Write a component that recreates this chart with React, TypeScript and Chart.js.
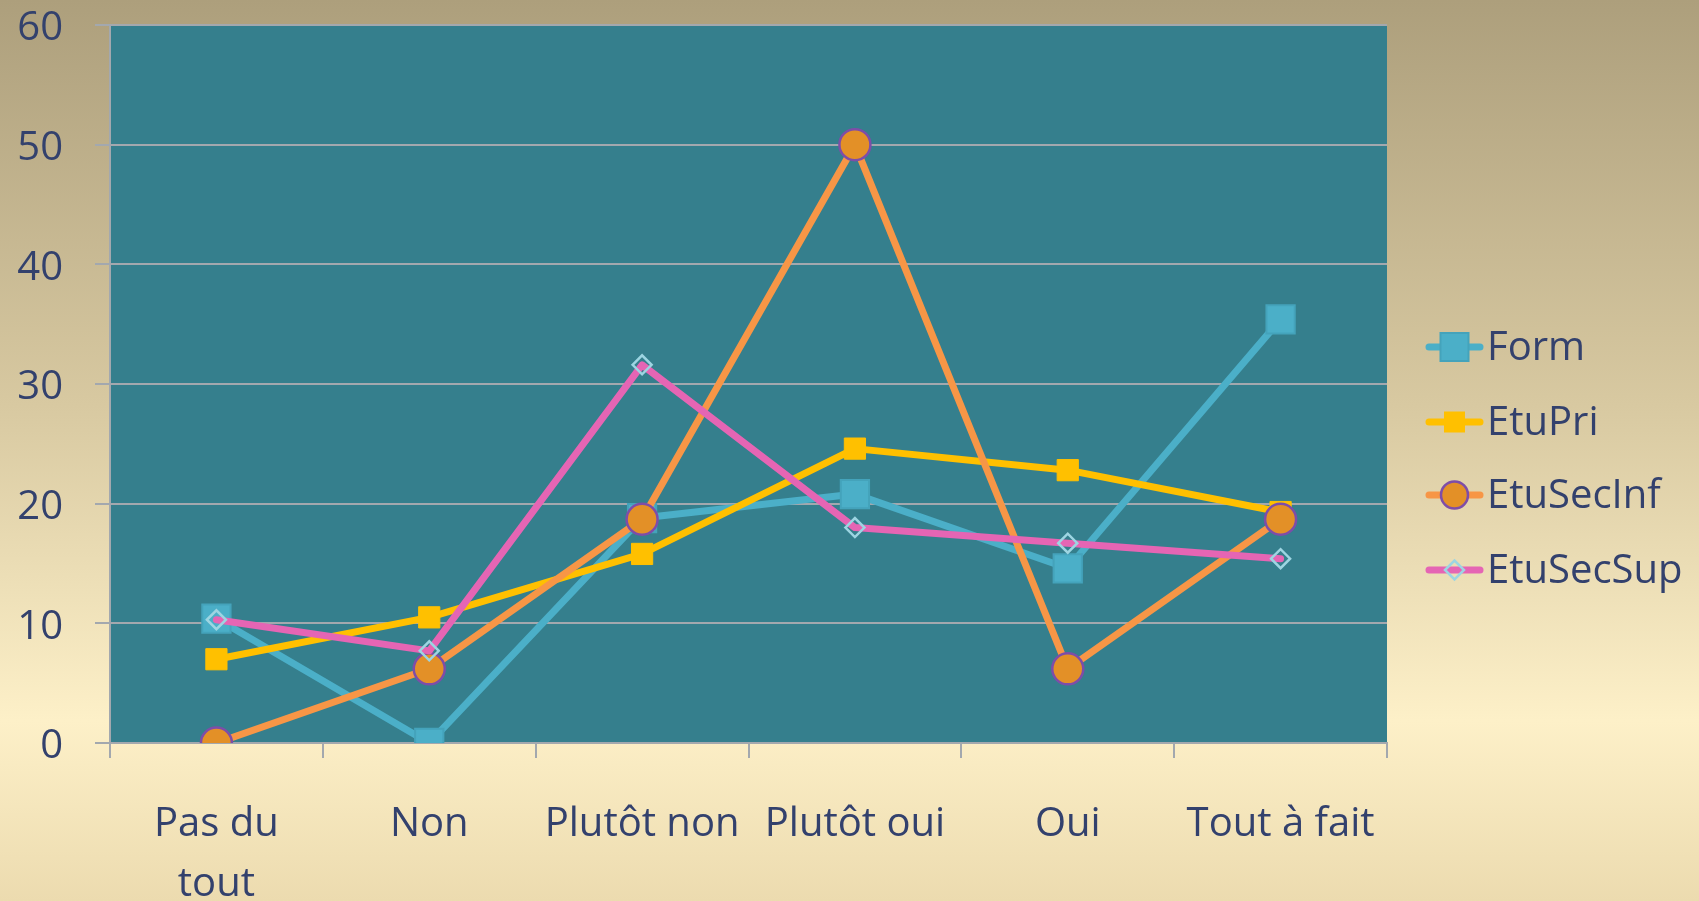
import React, { useEffect, useRef } from 'react';
import { Chart, registerables } from 'chart.js';

Chart.register(...registerables);

const categories: (string | string[])[] = [['Pas du', 'tout'], 'Non', 'Plutôt non', 'Plutôt oui', 'Oui', 'Tout à fait'];
const formValues = [10.4, 0, 18.8, 20.8, 14.6, 35.4];
const etuPriValues = [7.0, 10.5, 15.8, 24.6, 22.8, 19.3];
const etuSecInfValues = [0, 6.2, 18.7, 50, 6.2, 18.7];
const etuSecSupValues = [10.3, 7.7, 31.6, 18.0, 16.7, 15.4];
const seriesNames = ['Form', 'EtuPri', 'EtuSecInf', 'EtuSecSup'];
const yMin = 0;
const yMax = 60;
const yStep = 10;

const TEXT = '#33416D';
const GRID = '#A3A8AE';
const FONT = '"Open Sans", Lato, sans-serif';

const C_FORM = '#4BAFC8';
const C_FORM_B = '#44A3BB';
const C_PRI = '#FFC000';
const C_INF_LINE = '#F79646';
const C_INF_FILL = '#E39027';
const C_INF_B = '#7E4DA8';
const C_SUP = '#E565B4';
const C_SUP_B = '#9DD5E2';

const bgPlugin = {
  id: 'bgPlugin',
  beforeDraw(chart: any) {
    const { ctx, width, height, chartArea } = chart;
    ctx.save();
    const g = ctx.createLinearGradient(0, 0, 0, height);
    g.addColorStop(0, '#AD9F7C');
    g.addColorStop(0.45, '#D8C9A1');
    g.addColorStop(0.8, '#FDF0C8');
    g.addColorStop(1, '#ECDBAF');
    ctx.fillStyle = g;
    ctx.fillRect(0, 0, width, height);
    ctx.fillStyle = '#357F8D';
    ctx.fillRect(chartArea.left, chartArea.top, chartArea.right - chartArea.left, chartArea.bottom - chartArea.top);
    ctx.restore();
  },
};

const legendPlugin = {
  id: 'customLegend',
  afterDraw(chart: any) {
    const { ctx } = chart;
    const x0 = 1426;
    const x1 = 1483;
    const cx = (x0 + x1) / 2;
    const ys = [347, 422, 495, 570];
    const lineColors = [C_FORM, C_PRI, C_INF_LINE, C_SUP];
    ctx.save();
    seriesNames.forEach((name, i) => {
      const y = ys[i];
      ctx.beginPath();
      ctx.lineCap = 'round';
      ctx.lineWidth = 7;
      ctx.strokeStyle = lineColors[i];
      ctx.moveTo(x0 + 3, y);
      ctx.lineTo(x1 - 3, y);
      ctx.stroke();
      ctx.lineCap = 'butt';
      if (i === 0) {
        ctx.fillStyle = C_FORM;
        ctx.strokeStyle = C_FORM_B;
        ctx.lineWidth = 2;
        ctx.fillRect(cx - 14, y - 14, 28, 28);
        ctx.strokeRect(cx - 14, y - 14, 28, 28);
      } else if (i === 1) {
        ctx.fillStyle = C_PRI;
        ctx.fillRect(cx - 10.5, y - 10.5, 21, 21);
      } else if (i === 2) {
        ctx.beginPath();
        ctx.arc(cx, y, 13.5, 0, Math.PI * 2);
        ctx.fillStyle = C_INF_FILL;
        ctx.fill();
        ctx.lineWidth = 2.5;
        ctx.strokeStyle = C_INF_B;
        ctx.stroke();
      } else {
        ctx.beginPath();
        ctx.moveTo(cx - 9.5, y);
        ctx.lineTo(cx, y - 9.5);
        ctx.lineTo(cx + 9.5, y);
        ctx.lineTo(cx, y + 9.5);
        ctx.closePath();
        ctx.lineWidth = 2.5;
        ctx.strokeStyle = C_SUP_B;
        ctx.stroke();
      }
      ctx.fillStyle = TEXT;
      ctx.font = `40px ${FONT}`;
      ctx.textAlign = 'left';
      ctx.textBaseline = 'middle';
      ctx.fillText(name, 1487, y + 2);
    });
    ctx.restore();
  },
};

export default function App() {
  const canvasRef = useRef<HTMLCanvasElement | null>(null);

  useEffect(() => {
    document.body.style.margin = '0';
    const canvas = canvasRef.current;
    if (!canvas) return;
    const common = {
      borderWidth: 7,
      borderJoinStyle: 'round',
      borderCapStyle: 'round',
      tension: 0,
    };
    const chart = new Chart(canvas, {
      type: 'line',
      data: {
        labels: categories as any,
        datasets: [
          {
            ...common,
            label: seriesNames[0],
            data: formValues,
            order: 3,
            borderColor: C_FORM,
            backgroundColor: C_FORM,
            pointStyle: 'rect',
            pointRadius: 20,
            pointBackgroundColor: C_FORM,
            pointBorderColor: C_FORM_B,
            pointBorderWidth: 2,
          },
          {
            ...common,
            label: seriesNames[1],
            data: etuPriValues,
            order: 2,
            borderColor: C_PRI,
            backgroundColor: C_PRI,
            pointStyle: 'rect',
            pointRadius: 15,
            pointBackgroundColor: C_PRI,
            pointBorderColor: C_PRI,
            pointBorderWidth: 1,
          },
          {
            ...common,
            label: seriesNames[2],
            data: etuSecInfValues,
            order: 1,
            borderColor: C_INF_LINE,
            backgroundColor: C_INF_FILL,
            pointStyle: 'circle',
            pointRadius: 15.5,
            pointBackgroundColor: C_INF_FILL,
            pointBorderColor: C_INF_B,
            pointBorderWidth: 2.5,
          },
          {
            ...common,
            label: seriesNames[3],
            data: etuSecSupValues,
            order: 0,
            borderColor: C_SUP,
            backgroundColor: C_SUP,
            pointStyle: 'rectRot',
            pointRadius: 9.5,
            pointBackgroundColor: 'rgba(0,0,0,0)',
            pointBorderColor: C_SUP_B,
            pointBorderWidth: 2.5,
          },
        ] as any,
      },
      options: {
        responsive: false,
        animation: false,
        devicePixelRatio: 1,
        layout: { padding: { left: 0, top: 0, right: 312, bottom: 0 } },
        plugins: {
          legend: { display: false },
          tooltip: { enabled: false },
        },
        scales: {
          x: {
            offset: true,
            afterFit(scale: any) {
              scale.height = 158;
            },
            grid: {
              offset: true,
              drawOnChartArea: false,
              drawTicks: true,
              tickLength: 15,
              color: GRID,
              lineWidth: 2,
            },
            border: { display: true, color: GRID, width: 2 },
            ticks: {
              color: TEXT,
              font: { family: FONT, size: 40, lineHeight: 1.5 },
              padding: 37,
              maxRotation: 0,
              autoSkip: false,
            },
          },
          y: {
            min: yMin,
            max: yMax,
            afterFit(scale: any) {
              scale.width = 110;
              scale.paddingTop = 25;
              scale.paddingBottom = 0;
            },
            grid: {
              color: GRID,
              lineWidth: 2,
              tickLength: 15,
              drawTicks: true,
            },
            border: { display: true, color: GRID, width: 2 },
            ticks: {
              stepSize: yStep,
              color: TEXT,
              font: { family: FONT, size: 40, lineHeight: 1.0 },
              padding: 32,
              labelOffset: 4,
            },
          },
        },
      },
      plugins: [bgPlugin, legendPlugin],
    });
    return () => chart.destroy();
  }, []);

  return (
    <div style={{ position: 'absolute', left: 0, top: 0, width: 1699, height: 901 }}>
      <canvas ref={canvasRef} width={1699} height={901} style={{ display: 'block' }} />
    </div>
  );
}
